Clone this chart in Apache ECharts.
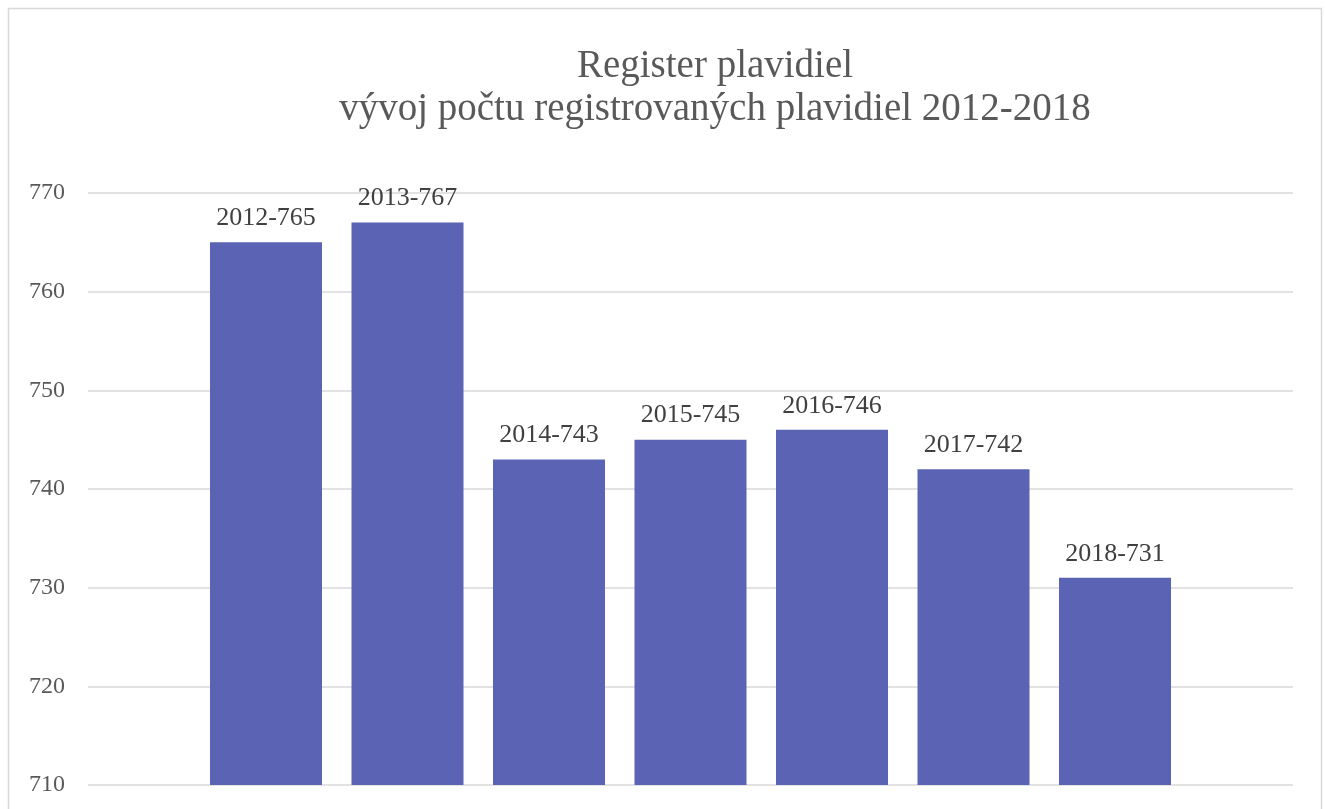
<!DOCTYPE html>
<html>
<head>
<meta charset="utf-8">
<script src="https://cdn.jsdelivr.net/npm/echarts@6/dist/echarts.min.js"></script>
<style>html,body{margin:0;padding:0;background:#fff;}#c{width:1325px;height:809px;}</style>
</head>
<body>
<div id="c"></div>
<script>
const titleLines = ['Register plavidiel', 'vývoj počtu registrovaných plavidiel 2012-2018'];
const categories = ['2012', '2013', '2014', '2015', '2016', '2017', '2018'];
const values = [765, 767, 743, 745, 746, 742, 731];
const yMin = 710, yMax = 770, yStep = 10;

const FONT = '"Liberation Serif", "DejaVu Serif", serif';
const chart = echarts.init(document.getElementById('c'), null, {renderer: 'canvas'});
chart.setOption({
  animation: false,
  backgroundColor: '#ffffff',
  title: {
    text: titleLines.join('\n'),
    left: 710, top: 40, textAlign: 'center',
    textStyle: {fontFamily: FONT, fontSize: 39, fontWeight: 'normal', color: '#595959', lineHeight: 43}
  },
  graphic: [{
    type: 'rect', shape: {x: 8.5, y: 8.5, width: 1313, height: 820},
    style: {fill: 'none', stroke: '#d9d9d9', lineWidth: 1.5}, silent: true, z: -1
  }],
  grid: [
    {left: 88, right: 32, top: 193, bottom: 24},
    {left: 195.25, right: 139.25, top: 193, bottom: 24}
  ],
  xAxis: [
    {type: 'category', gridIndex: 0, data: categories, show: false},
    {type: 'category', gridIndex: 1, data: categories, show: false}
  ],
  yAxis: [
    {type: 'value', gridIndex: 0, min: yMin, max: yMax, interval: yStep,
      axisLine: {show: false}, axisTick: {show: false},
      axisLabel: {margin: 23, color: '#595959', fontFamily: FONT, fontSize: 24},
      splitLine: {lineStyle: {color: '#d9d9d9', width: 1.5}}},
    {type: 'value', gridIndex: 1, min: yMin, max: yMax, interval: yStep, show: false,
      splitLine: {show: false}}
  ],
  series: [{
    type: 'bar', xAxisIndex: 1, yAxisIndex: 1,
    data: values, barWidth: 112,
    itemStyle: {color: '#5b64b4'},
    label: {
      show: true, position: 'top', distance: 11,
      color: '#404040', fontFamily: FONT, fontSize: 26,
      formatter: p => categories[p.dataIndex] + '-' + p.value
    }
  }]
});
</script>
</body>
</html>
